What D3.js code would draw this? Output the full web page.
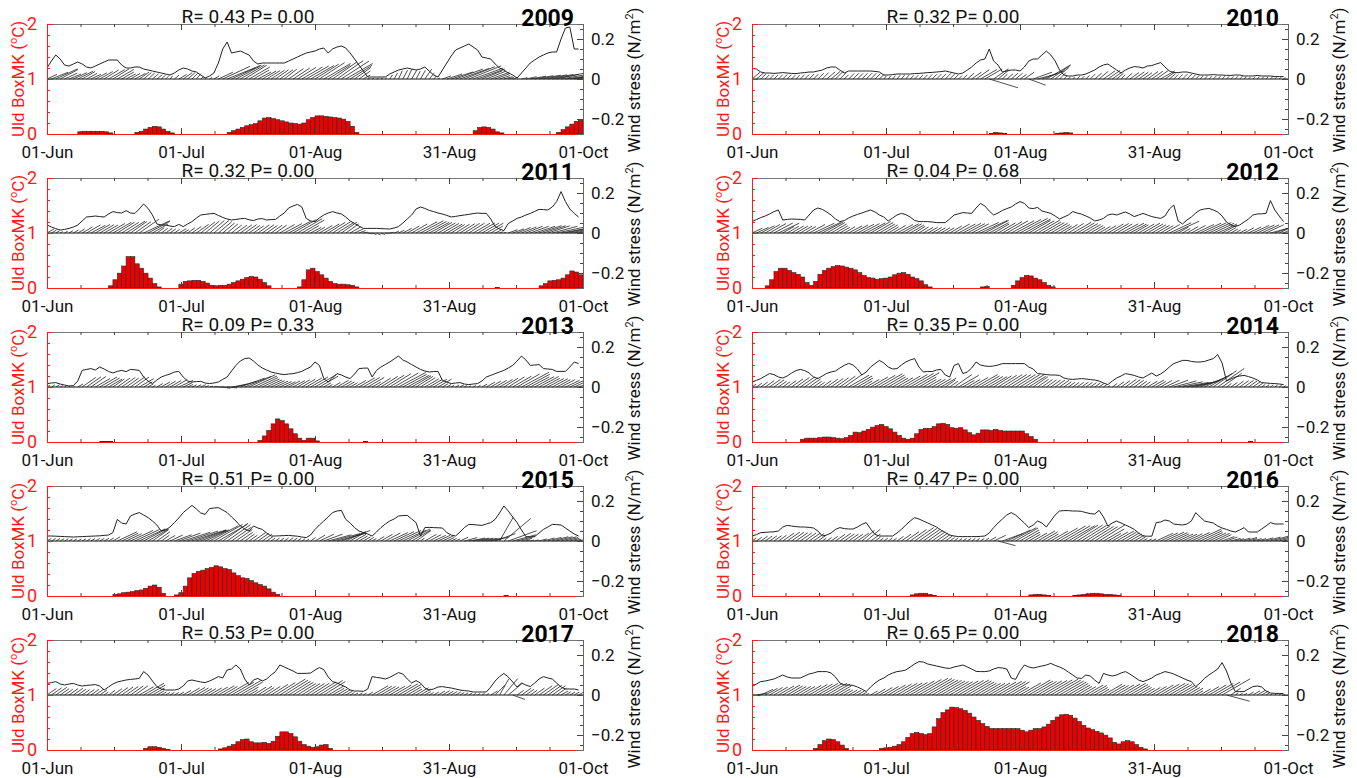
<!DOCTYPE html>
<html><head><meta charset="utf-8">
<script src="https://cdn.jsdelivr.net/npm/d3@7"></script>
<style>body{margin:0;background:#fff}svg text{font-family:Roboto,"Liberation Sans",sans-serif}</style>
</head><body><svg id="c" width="1357" height="778"></svg>
<script>
const years=[2009,2010,2011,2012,2013,2014,2015,2016,2017,2018];
const rVals=["0.43","0.32","0.32","0.04","0.09","0.35","0.51","0.47","0.53","0.65"];
const pVals=["0.00","0.00","0.00","0.68","0.33","0.00","0.00","0.00","0.00","0.00"];
const dayTickPos=[0,30.5,61,91.5,122];
const dayTickLabels=["01-Jun","01-Jul","01-Aug","31-Aug","01-Oct"];
const uldTicks=[0,1,2];
const tauTicks=[-0.2,0,0.2];

// Uld runs: [first day index (0 = 01-Jun), daily values...]
const uld2009=[[7,.04,.05,.05,.05,.05,.05,.04,.02],[20,.03,.05,.09,.12,.14,.13,.09,.05,.02],[41,.03,.06,.09,.12,.15,.17,.19,.24,.29,.3,.28,.26,.24,.22,.2,.19,.18,.2,.26,.3,.33,.33,.32,.31,.3,.29,.27,.23,.14,.03],[97,.06,.12,.13,.12,.09,.04,.02],[116,.03,.08,.13,.18,.23,.25]];
const uld2010=[[54,.01,.03,.02,.01],[69,.01,.02,.03,.02]];
const uld2011=[[14,.04,.15,.27,.4,.57,.57,.44,.36,.27,.18,.08,.02],[30,.07,.12,.13,.14,.14,.12,.09,.05,.04,.05,.05,.07,.1,.13,.16,.19,.21,.2,.16,.1,.04],[57,.02,.15,.33,.36,.3,.24,.18,.12,.08,.07,.07,.06,.05,.02],[102,.01],[112,.04,.08,.13,.14,.15,.18,.24,.31,.29,.24]];
const uld2012=[[3,.04,.15,.3,.36,.36,.32,.28,.25,.2,.1,.05,.12,.25,.32,.36,.39,.41,.4,.38,.36,.33,.28,.23,.19,.18,.16,.17,.18,.2,.24,.27,.28,.25,.2,.17,.13,.06,.02],[52,.02,.03],[59,.05,.13,.19,.23,.22,.18,.15,.1,.05,.02]];
const uld2013=[[12,.01,.01,.01],[48,.03,.11,.21,.33,.42,.39,.33,.24,.15,.07,.03,.07,.07,.02],[72,.01]];
const uld2014=[[11,.05,.07,.07,.07,.08,.09,.09,.08,.07,.06,.08,.12,.18,.17,.2,.23,.27,.3,.32,.28,.24,.18,.12,.07,.05,.07,.15,.23,.25,.25,.28,.33,.34,.32,.26,.25,.26,.22,.17,.13,.16,.22,.22,.21,.23,.21,.2,.2,.2,.2,.2,.15,.1,.05],[113,.01]];
const uld2015=[[15,.03,.04,.06,.07,.08,.1,.11,.14,.18,.2,.16,.05],[29,.02,.06,.18,.33,.41,.45,.47,.5,.52,.55,.53,.5,.48,.42,.37,.33,.32,.28,.24,.21,.18,.13,.07,.03],[104,.01]];
const uld2016=[[36,.02,.04,.05,.05,.03,.01],[63,.02,.03,.03,.02,.01],[73,.01,.02,.03,.04,.05,.05,.04,.03,.03,.02,.01]];
const uld2017=[[22,.03,.06,.06,.05,.03,.01],[39,.02,.04,.07,.1,.15,.19,.2,.15,.13,.13,.14,.12,.16,.25,.33,.33,.3,.24,.16,.1,.07,.05,.06,.09,.1,.03]];
const uld2018=[[14,.03,.1,.17,.2,.19,.15,.09,.03],[29,.03,.04,.05,.07,.1,.15,.23,.3,.32,.3,.28,.3,.42,.57,.68,.73,.78,.77,.75,.72,.67,.6,.54,.48,.43,.39,.39,.39,.39,.39,.39,.39,.36,.33,.36,.39,.39,.42,.47,.54,.6,.64,.65,.63,.58,.52,.45,.4,.37,.34,.31,.27,.22,.14,.11,.15,.17,.15,.1,.05,.02]];

// daily wind stress magnitude (N/m2), 01-Jun .. 30-Sep
const tau2009=[.055,.09,.12,.1,.07,.065,.075,.085,.075,.06,.055,.065,.075,.085,.095,.095,.095,.07,.055,.055,.06,.06,.05,.045,.04,.035,.03,.025,.02,.03,.045,.055,.05,.04,.035,.02,.005,.015,.03,.08,.15,.185,.13,.135,.14,.13,.12,.09,.075,.08,.08,.08,.08,.08,.08,.09,.1,.11,.12,.13,.135,.14,.15,.155,.13,.15,.16,.165,.155,.13,.1,.07,.04,.01,.01,.01,.01,.01,.025,.035,.045,.05,.055,.05,.045,.05,.06,.04,.02,.01,.045,.08,.115,.145,.155,.165,.175,.16,.145,.11,.105,.1,.075,.055,.045,.03,.02,.005,.03,.055,.08,.095,.11,.12,.13,.135,.135,.2,.255,.26,.15,.15];
const tau2010=[.053,.05,.035,.03,.03,.028,.03,.032,.03,.028,.027,.03,.032,.035,.035,.04,.045,.055,.06,.06,.045,.03,.04,.04,.04,.04,.04,.04,.038,.035,.02,.02,.022,.025,.025,.025,.025,.027,.028,.03,.032,.033,.035,.037,.04,.035,.03,.025,.03,.045,.06,.08,.095,.1,.15,.09,.07,.035,.04,.045,.045,.04,.06,.09,.1,.1,.12,.14,.12,.09,.045,.02,.015,.015,.02,.02,.025,.035,.045,.06,.07,.075,.06,.045,.03,.045,.055,.062,.06,.055,.065,.067,.075,.082,.06,.04,.032,.032,.035,.035,.03,.025,.02,.02,.02,.022,.02,.02,.018,.018,.02,.02,.015,.015,.015,.018,.015,.015,.015,.012,.012,.012];
const tau2011=[.04,.03,.022,.015,.018,.023,.03,.04,.06,.08,.082,.085,.082,.08,.095,.107,.102,.1,.112,.1,.098,.12,.145,.123,.09,.045,.04,.04,.035,.032,.043,.032,.045,.057,.075,.09,.093,.096,.098,.088,.078,.07,.065,.068,.071,.073,.066,.062,.07,.072,.065,.067,.068,.085,.1,.125,.135,.143,.13,.073,.06,.057,.075,.09,.1,.107,.1,.095,.08,.06,.048,.035,.023,.023,.023,.023,.022,.021,.02,.025,.032,.05,.07,.09,.12,.13,.123,.113,.107,.1,.095,.088,.08,.083,.087,.09,.093,.097,.1,.098,.098,.07,.032,.02,.012,.048,.06,.073,.08,.09,.098,.108,.118,.117,.115,.13,.157,.207,.157,.12,.098,.08];
const tau2012=[.057,.067,.077,.085,.095,.107,.115,.065,.068,.07,.069,.068,.065,.09,.115,.125,.118,.105,.09,.07,.057,.062,.075,.085,.093,.1,.108,.115,.105,.09,.08,.06,.075,.09,.098,.092,.08,.063,.057,.057,.057,.055,.052,.052,.052,.07,.09,.096,.102,.1,.098,.125,.148,.135,.11,.09,.1,.113,.122,.13,.145,.157,.148,.125,.122,.128,.11,.104,.098,.085,.07,.08,.09,.107,.1,.094,.085,.075,.06,.065,.073,.09,.095,.09,.098,.105,.095,.082,.09,.098,.09,.082,.077,.073,.085,.12,.14,.06,.045,.065,.08,.1,.115,.12,.123,.115,.105,.085,.055,.04,.032,.04,.055,.07,.09,.095,.096,.098,.162,.115,.085,.057];
const tau2013=[.017,.02,.022,.015,.01,.005,.007,.03,.083,.088,.092,.085,.1,.09,.078,.07,.078,.083,.077,.088,.086,.083,.05,.03,.017,.035,.05,.058,.065,.075,.078,.05,.03,.025,.027,.028,.02,.017,.02,.025,.038,.05,.08,.108,.13,.142,.145,.13,.11,.095,.085,.075,.07,.065,.062,.065,.067,.072,.078,.09,.1,.125,.108,.042,.025,.045,.067,.06,.05,.042,.065,.092,.094,.095,.05,.083,.1,.112,.125,.14,.155,.135,.125,.112,.1,.088,.08,.075,.077,.078,.033,.025,.017,.02,.022,.015,.012,.015,.017,.03,.05,.058,.067,.075,.083,.095,.108,.13,.155,.135,.108,.11,.112,.092,.09,.088,.078,.078,.078,.1,.125,.117];
const tau2014=[.025,.033,.042,.055,.067,.062,.05,.045,.055,.07,.082,.088,.082,.07,.05,.042,.055,.068,.075,.08,.095,.108,.118,.11,.09,.06,.075,.1,.117,.133,.12,.1,.09,.092,.11,.125,.135,.142,.1,.075,.078,.077,.085,.088,.06,.05,.108,.117,.067,.075,.095,.125,.11,.105,.103,.105,.11,.117,.117,.117,.117,.117,.117,.1,.09,.067,.065,.062,.06,.06,.058,.045,.04,.038,.04,.042,.04,.037,.035,.03,.02,.012,.03,.045,.055,.067,.063,.058,.05,.045,.058,.07,.055,.065,.08,.1,.117,.125,.133,.133,.128,.125,.125,.128,.135,.142,.162,.12,.03,.04,.05,.055,.058,.052,.045,.035,.022,.02,.018,.017,.015,.012];
const tau2015=[.025,.025,.024,.023,.022,.021,.02,.021,.022,.023,.024,.025,.026,.028,.03,.042,.108,.09,.085,.125,.135,.142,.13,.117,.1,.08,.05,.055,.07,.092,.115,.142,.16,.178,.16,.14,.133,.162,.165,.167,.155,.142,.12,.1,.075,.06,.05,.075,.065,.058,.04,.025,.025,.026,.027,.028,.026,.024,.02,.017,.03,.058,.08,.1,.12,.142,.15,.153,.108,.09,.067,.05,.042,.035,.025,.045,.067,.085,.1,.11,.125,.127,.128,.11,.092,.025,.067,.068,.067,.066,.065,.042,.03,.025,.045,.067,.083,.082,.08,.078,.085,.092,.108,.14,.175,.15,.12,.092,.055,.022,.02,.022,.04,.058,.07,.083,.082,.08,.065,.05,.035,.025];
const tau2016=[.025,.032,.042,.043,.045,.046,.05,.07,.078,.075,.072,.07,.07,.068,.065,.05,.025,.03,.04,.058,.067,.062,.06,.06,.07,.083,.092,.06,.033,.025,.025,.025,.025,.04,.058,.08,.1,.117,.11,.1,.09,.08,.07,.055,.042,.03,.025,.022,.022,.022,.022,.022,.023,.025,.04,.067,.09,.11,.13,.142,.13,.11,.09,.067,.08,.1,.09,.07,.1,.13,.15,.152,.152,.15,.15,.148,.142,.137,.135,.153,.12,.075,.09,.1,.09,.08,.07,.058,.04,.025,.024,.024,.092,.095,.105,.1,.085,.082,.08,.085,.1,.142,.12,.1,.095,.09,.075,.065,.058,.05,.045,.055,.067,.045,.045,.045,.06,.075,.092,.085,.085,.085];
const tau2017=[.058,.062,.067,.055,.05,.055,.058,.05,.045,.048,.05,.052,.045,.025,.04,.055,.065,.07,.075,.078,.08,.083,.117,.1,.07,.042,.03,.025,.025,.025,.03,.045,.07,.075,.07,.065,.062,.07,.08,.092,.085,.125,.13,.15,.13,.08,.05,.075,.083,.07,.08,.1,.117,.15,.14,.13,.12,.108,.108,.108,.11,.125,.137,.127,.09,.067,.06,.05,.04,.025,.02,.02,.018,.03,.092,.088,.085,.08,.088,.1,.112,.105,.08,.06,.072,.06,.035,.025,.03,.04,.042,.038,.035,.03,.025,.022,.02,.015,.015,.015,.015,.04,.07,.092,.108,.09,.065,.04,.06,.05,.042,.06,.08,.092,.085,.08,.06,.04,.03,.03,.03,.025];
const tau2018=[.042,.055,.067,.07,.075,.08,.09,.1,.09,.085,.085,.085,.095,.105,.11,.117,.117,.117,.11,.09,.06,.05,.05,.048,.04,.03,.017,.04,.06,.075,.085,.1,.11,.117,.12,.125,.14,.155,.167,.165,.155,.15,.145,.14,.135,.133,.14,.145,.15,.14,.13,.118,.117,.117,.12,.13,.137,.135,.13,.085,.078,.12,.15,.14,.135,.14,.145,.15,.158,.148,.14,.13,.115,.1,.085,.083,.1,.095,.075,.058,.108,.1,.095,.1,.11,.117,.105,.09,.075,.067,.075,.085,.1,.108,.117,.112,.105,.095,.085,.075,.067,.042,.06,.083,.1,.115,.13,.162,.12,.06,.017,.017,.017,.03,.042,.045,.04,.02,.01,.008,.008,.007];

// daily wind stress direction (degrees, counter-clockwise from east)
const dir2009=[25,22,25,28,25,22,25,27,30,28,25,28,30,32,30,32,30,30,28,30,28,35,40,42,40,38,42,45,50,40,30,35,40,45,50,40,30,35,30,25,25,22,25,28,30,32,30,30,28,30,32,33,35,35,38,35,33,32,30,30,30,32,33,30,32,35,35,33,30,32,35,35,30,20,20,20,25,40,55,60,65,62,65,60,62,60,55,50,45,30,20,18,18,20,20,22,22,20,20,22,22,20,20,18,15,15,15,12,12,12,10,10,10,10,10,10,12,10,8,8,10,10];
const dir2010=[40,40,45,45,45,45,45,45,45,45,45,45,45,45,45,45,45,40,40,45,45,45,45,45,45,45,45,45,45,45,50,50,50,50,50,50,45,45,45,45,45,45,45,45,45,45,45,45,45,40,35,35,30,30,-17,35,40,45,40,40,40,35,35,-20,20,15,20,30,35,40,45,45,45,45,45,45,45,45,40,40,35,35,35,40,45,40,35,35,35,35,35,35,35,30,35,40,45,45,45,45,45,45,45,45,45,45,45,45,45,45,45,45,45,45,45,45,45,45,45,45,45,45];
const dir2011=[30,30,30,30,30,30,30,30,30,30,28,30,30,30,30,30,32,32,32,35,35,35,25,28,30,35,35,35,35,35,30,30,35,35,35,38,40,40,40,40,40,40,38,35,35,35,35,35,35,35,35,35,35,30,28,28,30,30,30,30,28,30,30,30,32,32,32,35,35,30,25,20,10,-10,-20,-25,-20,-5,10,20,25,28,30,30,28,28,28,28,30,30,30,30,32,32,32,32,32,30,30,30,30,30,25,20,20,20,20,22,22,22,20,18,18,18,18,15,12,10,12,12,12,12];
const dir2012=[25,25,28,30,30,28,25,30,30,30,30,30,30,28,25,25,28,30,30,30,30,30,28,28,28,28,28,30,30,30,30,30,30,28,28,30,30,32,32,30,30,30,30,30,30,30,30,28,28,28,28,25,25,28,28,30,30,30,30,28,28,28,28,30,30,30,30,30,30,30,30,32,32,30,30,30,30,30,30,30,30,30,30,30,28,28,28,30,30,30,30,30,30,30,30,25,25,30,30,30,28,25,25,25,25,25,25,28,30,30,30,28,28,25,25,25,25,25,15,20,25,25];
const dir2013=[30,30,30,30,30,30,30,30,35,35,35,30,30,30,30,35,35,35,35,35,35,30,30,30,30,30,30,30,30,30,25,25,25,25,25,25,20,15,10,0,-10,-5,10,15,20,22,25,25,25,25,25,25,25,25,25,28,28,30,30,30,30,30,30,30,30,30,30,30,30,30,30,30,30,30,30,32,32,32,32,30,28,28,28,30,32,32,30,30,30,30,30,30,30,30,30,30,30,30,30,30,30,30,30,30,32,32,30,30,28,28,28,28,28,28,28,28,28,28,25,25,25,20];
const dir2014=[35,35,35,35,35,35,35,35,35,35,35,35,35,35,35,35,35,35,35,35,35,35,30,30,30,30,30,30,30,30,30,30,30,30,30,30,30,30,30,30,30,30,30,30,35,35,35,30,30,30,30,30,30,30,30,32,32,32,32,32,32,32,32,32,35,35,35,35,35,35,35,35,35,35,35,35,35,35,35,35,35,35,35,35,35,35,35,35,35,35,30,30,30,30,25,20,15,12,10,10,12,15,20,25,30,35,35,35,35,35,35,35,35,35,35,35,35,35,35,35,35,35];
const dir2015=[30,30,30,30,30,30,30,30,30,30,30,30,30,30,30,30,25,25,25,25,25,25,28,30,35,35,35,30,25,20,20,18,18,18,20,22,25,28,30,30,35,35,35,35,35,35,35,35,35,35,35,35,35,35,35,35,35,35,35,35,35,30,25,20,15,15,15,20,25,30,30,30,30,30,30,30,30,28,25,25,25,25,28,30,35,35,30,28,25,25,25,25,25,25,25,15,10,10,10,10,10,12,20,60,40,20,15,15,15,15,15,15,15,15,15,15,15,15,15,15,15,15];
const dir2016=[35,35,35,35,35,35,35,35,35,35,35,35,35,35,35,35,35,35,35,35,35,35,35,35,35,40,40,35,35,35,35,35,35,35,35,35,35,35,35,35,35,35,35,35,35,35,35,35,35,35,35,35,35,35,30,25,-15,20,25,28,30,30,30,30,30,30,30,30,30,30,30,30,30,32,32,32,32,32,32,32,30,30,30,30,30,30,30,30,30,30,25,25,25,25,25,25,25,25,25,25,25,25,25,25,25,25,25,20,20,15,15,15,15,15,15,15,15,15,15,15,15,15];
const dir2017=[35,35,35,35,35,35,35,35,35,35,35,35,35,35,35,35,35,35,35,35,35,30,30,30,30,30,30,30,30,30,30,30,30,30,30,30,30,30,30,30,30,30,30,30,30,30,30,32,32,32,32,32,32,32,32,32,32,32,32,32,32,32,32,32,30,30,30,30,30,30,30,30,30,30,30,30,30,30,30,30,30,30,30,30,30,30,30,30,30,30,30,30,30,30,30,30,30,30,30,30,30,30,45,60,50,40,-20,35,35,35,35,35,35,35,35,35,35,30,30,30,30,30];
const dir2018=[-5,10,25,28,30,30,30,30,30,30,30,30,30,30,30,30,30,30,30,30,30,30,30,30,30,30,30,30,30,30,30,30,30,30,30,30,30,30,30,30,30,30,30,30,30,30,30,30,30,30,30,30,30,30,30,30,30,30,30,30,30,30,30,30,30,30,30,30,30,30,30,30,30,30,30,30,30,30,30,30,30,30,30,30,30,30,30,30,30,30,30,30,30,30,30,30,30,30,30,30,30,30,30,30,30,30,30,30,-15,35,35,30,30,30,30,30,30,30,30,30,30,30];

const uldRuns=[uld2009,uld2010,uld2011,uld2012,uld2013,uld2014,uld2015,uld2016,uld2017,uld2018];
const tauAll=[tau2009,tau2010,tau2011,tau2012,tau2013,tau2014,tau2015,tau2016,tau2017,tau2018];
const dirAll=[dir2009,dir2010,dir2011,dir2012,dir2013,dir2014,dir2015,dir2016,dir2017,dir2018];

const NDAYS=122;
const svg=d3.select("#c");
const colX=[47,752], rowY=[24,178,332,486,640], W=536, H=110;
const RED="#ff1a1a", AX="#444";
const stickScale=1.0; // horizontal stretch of wind sticks vs vertical axis

years.forEach((yr,i)=>{
  const x0=colX[i%2], y0=rowY[Math.floor(i/2)];
  const g=svg.append("g");
  const x=d3.scaleLinear().domain([0,NDAYS]).range([x0,x0+W]);
  const yU=d3.scaleLinear().domain([0,2]).range([y0+H,y0]);
  const yT=d3.scaleLinear().domain([-0.275,0.275]).range([y0+H,y0]);
  const clipId="clip"+yr;
  g.append("clipPath").attr("id",clipId).append("rect").attr("x",x0).attr("y",y0).attr("width",W).attr("height",H);

  // bars
  const daily=[];
  uldRuns[i].forEach(run=>{run.slice(1).forEach((v,k)=>daily.push({d:run[0]+k,v}));});
  g.append("g").selectAll("rect").data(daily.filter(o=>o.v>0)).join("rect")
    .attr("x",o=>x(o.d)).attr("width",o=>x(o.d+1)-x(o.d))
    .attr("y",o=>yU(o.v)).attr("height",o=>yU(0)-yU(o.v))
    .attr("fill","#ee0000").attr("stroke","#2a2a2a").attr("stroke-width",0.6);

  // wind zero line
  g.append("line").attr("x1",x0).attr("x2",x0+W).attr("y1",yT(0)).attr("y2",yT(0)).attr("stroke","#111").attr("stroke-width",1);

  // sticks
  const tau=tauAll[i], dir=dirAll[i];
  const pxPerUnit=yT(0)-yT(1);
  g.append("g").attr("clip-path",`url(#${clipId})`).selectAll("line").data(tau.map((t,d)=>({d,t,a:dir[d]*Math.PI/180}))).join("line")
    .attr("x1",o=>x(o.d)).attr("y1",yT(0))
    .attr("x2",o=>x(o.d)+o.t*Math.cos(o.a)*pxPerUnit*stickScale)
    .attr("y2",o=>yT(o.t*Math.sin(o.a)))
    .attr("stroke","#222").attr("stroke-width",0.8);

  // magnitude line
  g.append("path").attr("clip-path",`url(#${clipId})`).datum(tau).attr("fill","none").attr("stroke","#222").attr("stroke-width",1)
    .attr("d",d3.line().x((t,d)=>x(d)).y(t=>yT(t)));

  // axes: bottom (red line), top
  const minorDays=d3.range(0,NDAYS+0.01,NDAYS/16);
  const bottom=g.append("g").attr("transform",`translate(0,${y0+H})`).call(d3.axisBottom(x).tickValues(dayTickPos).tickFormat((d,k)=>dayTickLabels[k]).tickSize(-6).tickPadding(12));
  bottom.select(".domain").attr("stroke",RED);
  bottom.selectAll(".tick line").attr("stroke",AX);
  bottom.selectAll("text").attr("font-size",17).attr("fill","#111");
  g.append("g").attr("transform",`translate(0,${y0+H})`).call(d3.axisBottom(x).tickValues(minorDays).tickFormat("").tickSize(-3)).call(s=>{s.select(".domain").remove();s.selectAll("line").attr("stroke",AX);});
  const top=g.append("g").attr("transform",`translate(0,${y0})`).call(d3.axisTop(x).tickValues(dayTickPos).tickFormat("").tickSize(-6));
  top.select(".domain").attr("stroke","#777");top.selectAll("line").attr("stroke",AX);
  g.append("g").attr("transform",`translate(0,${y0})`).call(d3.axisTop(x).tickValues(minorDays).tickFormat("").tickSize(-3)).call(s=>{s.select(".domain").remove();s.selectAll("line").attr("stroke",AX);});

  // left axis (red)
  const left=g.append("g").attr("transform",`translate(${x0},0)`).call(d3.axisLeft(yU).tickValues(uldTicks).tickFormat(d3.format("d")).tickSize(-6).tickPadding(10));
  left.select(".domain").attr("stroke",RED);
  left.selectAll("line").attr("stroke",RED);
  left.selectAll("text").attr("font-size",18).attr("fill",RED);
  g.append("g").attr("transform",`translate(${x0},0)`).call(d3.axisLeft(yU).tickValues(d3.range(0,2.01,0.2)).tickFormat("").tickSize(-3)).call(s=>{s.select(".domain").remove();s.selectAll("line").attr("stroke",RED);});

  // right axis
  const right=g.append("g").attr("transform",`translate(${x0+W},0)`).call(d3.axisRight(yT).tickValues(tauTicks).tickFormat(d=>d===0?"0":d3.format(".1f")(d)).tickSize(-6).tickPadding(8));
  right.select(".domain").attr("stroke","#666");
  right.selectAll("line").attr("stroke",AX);
  right.selectAll("text").attr("font-size",17).attr("fill","#111");
  g.append("g").attr("transform",`translate(${x0+W},0)`).call(d3.axisRight(yT).tickValues(d3.range(-0.25,0.2501,0.05)).tickFormat("").tickSize(-3)).call(s=>{s.select(".domain").remove();s.selectAll("line").attr("stroke",AX);});

  // axis titles
  const lt=g.append("text").attr("transform",`translate(${x0-23},${y0+H/2}) rotate(-90)`).attr("text-anchor","middle").attr("font-size",17).attr("fill",RED);
  lt.append("tspan").text("Uld BoxMK (");
  lt.append("tspan").attr("font-size",11).attr("dy",-7).text("o");
  lt.append("tspan").attr("dy",7).text("C)");
  const rt=g.append("text").attr("transform",`translate(${x0+W+57},${y0+H/2+1}) rotate(-90)`).attr("text-anchor","middle").attr("font-size",17).attr("fill","#111");
  rt.append("tspan").text("Wind stress (N/m");
  rt.append("tspan").attr("font-size",11).attr("dy",-7).text("2");
  rt.append("tspan").attr("dy",7).text(")");

  // titles
  g.append("text").attr("x",x0+201).attr("y",y0-1).attr("text-anchor","middle").attr("font-size",19).attr("fill","#111").text(`R= ${rVals[i]} P= ${pVals[i]}`);
  g.append("text").attr("x",x0+W-9).attr("y",y0+2).attr("text-anchor","end").attr("font-size",23).attr("font-weight","bold").attr("fill","#000").text(yr);
});
</script></body></html>
